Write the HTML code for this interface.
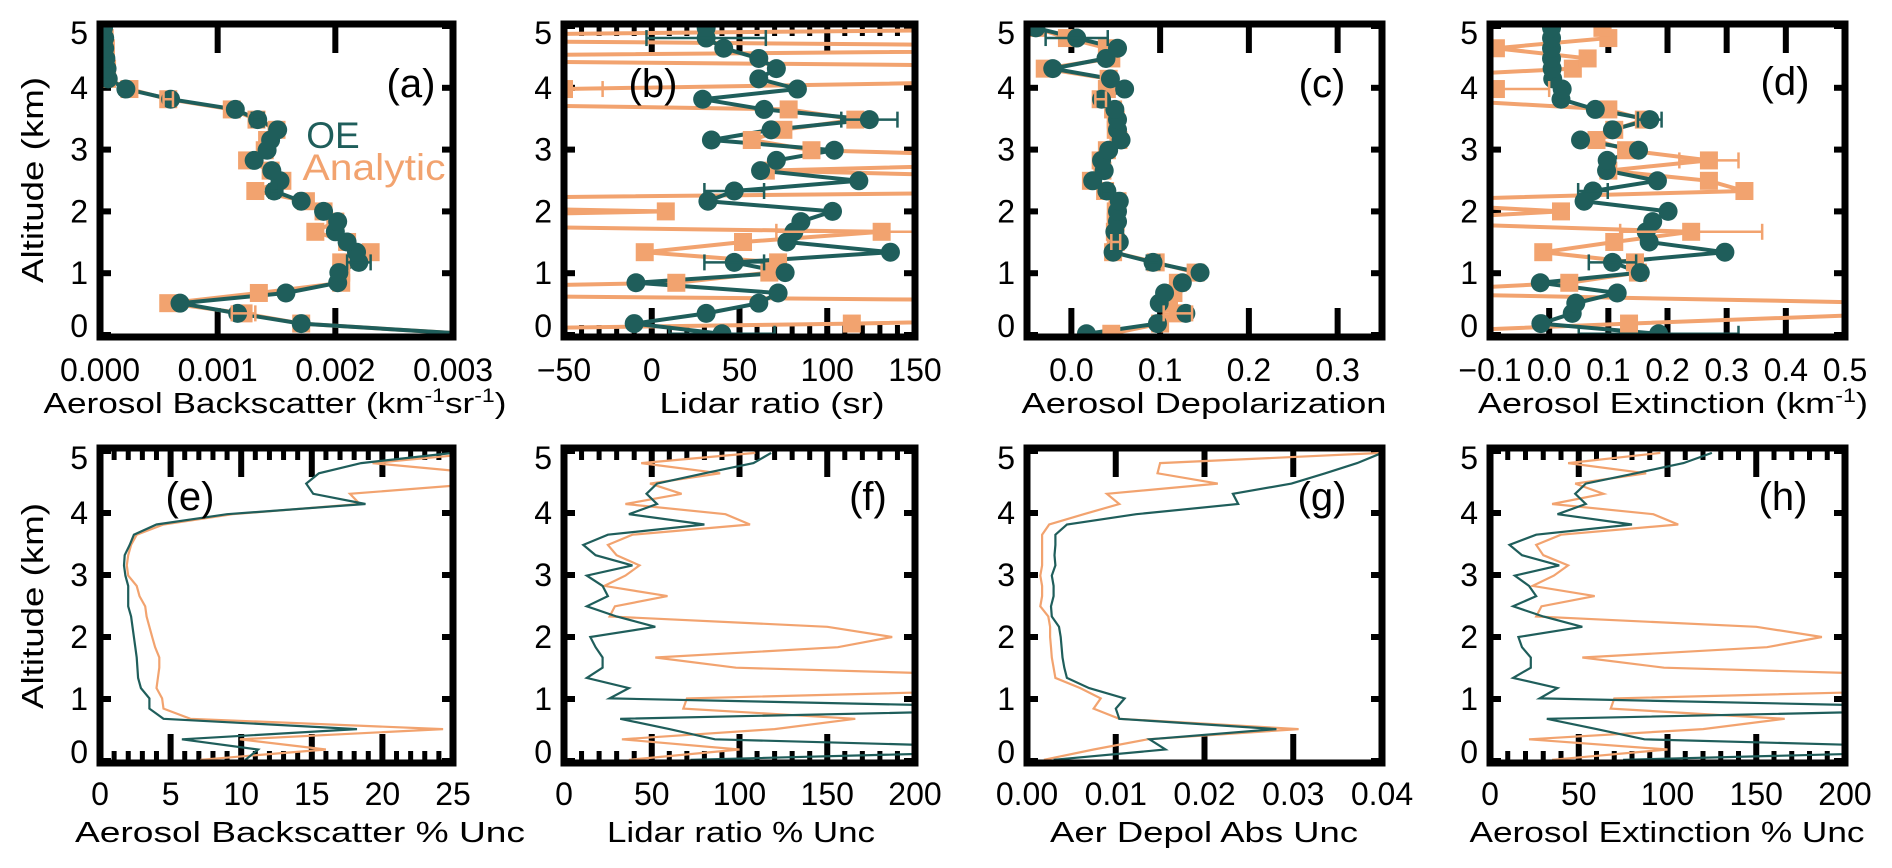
<!DOCTYPE html>
<html><head><meta charset="utf-8"><style>
html,body{margin:0;padding:0;background:#fff;}
svg{display:block;font-family:"Liberation Sans",sans-serif;}
</style></head><body>
<svg id="fig" width="1892" height="868" viewBox="0 0 1892 868" xmlns="http://www.w3.org/2000/svg"></svg>
<script>
// ---- data ----
const alts = [0.02,0.185,0.35,0.515,0.68,0.845,1.01,1.175,1.34,1.505,1.67,1.835,2.0,2.165,2.33,2.495,2.66,2.825,2.99,3.155,3.32,3.485,3.65,3.815,3.98,4.145,4.31,4.475,4.64,4.805,4.97];

const aOE = [0.0031,0.00171,0.00117,0.00068,0.00158,0.00202,0.00203,0.0022,0.00218,0.0021,0.002,0.00202,0.0019,0.00171,0.00148,0.00153,0.00146,0.00131,0.00142,0.00145,0.00151,0.00134,0.00115,0.0006,0.00022,0.00007,0.00006,0.00005,0.00004,0.00004,0.00003];
const aAn = [0.0031,0.00171,0.00122,0.00058,0.00135,0.00205,0.00205,0.00205,0.0023,0.0021,0.00183,0.002,0.0019,0.00175,0.00132,0.00155,0.00145,0.00125,0.0014,0.00142,0.0015,0.00133,0.00112,0.00058,0.00025,0.00006,0.00006,0.00005,0.00005,0.00004,0.00003];
const aOEerrIdx = [7,14,21]; const aOEerrVal = [0.0001,0.00004,0.00005];
const aAnErrIdx = [2,23]; const aAnErrVal = [0.0001,0.00004];

const bOE = [40,-10,31,61,72,-9,76,47,136,77,81,85,103,32,47,118,62,71,104,34,68,124,64,29,83,61,71,61,41,31,31];
const bAn = [-300,114,400,400,-300,14,67,72,-4,52,131,-300,8,-300,300,300,65,300,91,57,75,116,78,-300,-50,300,400,-300,400,-300,300];
const bOEerrIdx = [0,7,14,21,29]; const bOEerrVal = [30,17,17,16,34];
const bAnErrIdx = [24,10]; const bAnErrVal = [22,60];

const cOE = [0.017,0.097,0.129,0.099,0.105,0.125,0.145,0.092,0.047,0.054,0.049,0.052,0.052,0.054,0.04,0.024,0.037,0.034,0.042,0.056,0.052,0.052,0.049,0.034,0.06,0.044,-0.021,0.039,0.052,0.006,-0.04];
const cAn = [0.045,0.1,0.12,0.11,0.115,0.12,0.14,0.095,0.047,0.05,0.049,0.05,0.05,0.052,0.038,0.022,0.035,0.033,0.04,0.053,0.05,0.05,0.047,0.033,0.04,0.042,-0.03,0.045,0.04,-0.005,-0.04];
const cOEerrIdx = [7,29,14]; const cOEerrVal = [0.007,0.035,0.006];
const cAnErrIdx = [2,23,9]; const cAnErrVal = [0.016,0.006,0.005];

const dOE = [0.185,-0.014,0.039,0.045,0.115,-0.015,0.154,0.107,0.297,0.169,0.164,0.175,0.201,0.059,0.074,0.183,0.097,0.098,0.151,0.053,0.107,0.17,0.078,0.02,0.022,0.006,0.005,0.004,0.004,0.004,0.004];
const dAn = [-0.3,0.135,0.6,0.6,-0.3,0.034,0.15,0.145,-0.01,0.11,0.24,-0.3,0.02,-0.3,0.33,0.27,0.1,0.27,0.13,0.08,0.11,0.16,0.1,-0.2,-0.09,-0.3,0.04,0.065,-0.09,0.1,0.09];
const dOEerrIdx = [0,7,14,21]; const dOEerrVal = [0.135,0.04,0.025,0.02];
const dAnErrIdx = [10,17,24]; const dAnErrVal = [0.12,0.05,0.09];

const eOE = [10.3,11.2,5.8,18.2,4.5,3.5,3.5,2.9,2.7,2.65,2.6,2.5,2.4,2.3,2.2,2.0,2.0,2.0,1.8,1.7,1.75,2.1,2.4,4.0,9.0,18.8,15.1,14.6,15.5,18.5,25];
const eAn = [7.1,16,9.9,24.3,6.4,4.5,4.4,4.0,4.1,4.2,4.2,3.9,3.7,3.5,3.3,3.2,2.8,2.6,2.0,1.9,2.0,2.2,2.6,4.5,9.4,18.4,17.7,27,27,19.3,27];

const fOE = [72,300,86,60,32,300,26,37,13,22,22,18,15,52,30,13,25,22,13,39,18,11,25,80,37,53,47,53,80,108,118];
const fAn = [37,100,33,120,166,68,70,300,300,98,52,156,187,150,26,29,59,23,35,43,30,25,39,106,92,35,67,49,89,44,109];

const gOE = [0.003,0.0156,0.0138,0.0281,0.0104,0.010,0.011,0.007,0.0045,0.0042,0.0040,0.0039,0.0038,0.0036,0.0028,0.0027,0.0030,0.0030,0.0028,0.0032,0.0031,0.0032,0.0032,0.0045,0.0123,0.0238,0.0232,0.0298,0.0336,0.0372,0.04];
const gAn = [0.0019,0.0075,0.0136,0.0306,0.0104,0.0075,0.0083,0.006,0.0032,0.003,0.0028,0.0027,0.0026,0.0026,0.0024,0.0015,0.0017,0.0017,0.0015,0.0017,0.0017,0.0017,0.0017,0.0025,0.0064,0.0104,0.009,0.0215,0.0147,0.015,0.04];

const hOE = [75,300,87,60,32,300,28,38,13,23,23,18,16,52,30,13,26,22,14,39,18,11,26,80,38,54,48,54,82,109,125];
const hAn = [35,100,22,120,166,68,70,300,300,98,52,156,187,150,26,29,59,24,36,44,30,26,40,106,92,35,64,48,88,44,96];

const aTicks = [0,0.001,0.002,0.003]; const aLabels = ['0.000','0.001','0.002','0.003'];
const bTicks = [-50,0,50,100,150]; const bLabels = ['\u221250','0','50','100','150'];
const cTicks = [0,0.1,0.2,0.3]; const cLabels = ['0.0','0.1','0.2','0.3'];
const dTicks = [-0.1,0,0.1,0.2,0.3,0.4,0.5]; const dLabels = ['\u22120.1','0.0','0.1','0.2','0.3','0.4','0.5'];
const eTicks = [0,5,10,15,20,25]; const eLabels = ['0','5','10','15','20','25'];
const fTicks = [0,50,100,150,200]; const fLabels = ['0','50','100','150','200'];
const gTicks = [0,0.01,0.02,0.03,0.04]; const gLabels = ['0.00','0.01','0.02','0.03','0.04'];
const hTicks = [0,50,100,150,200]; const hLabels = ['0','50','100','150','200'];
const yTicks = [0,1,2,3,4,5]; const yLabels = ['0','1','2','3','4','5'];

// ---- drawing ----
const NS = 'http://www.w3.org/2000/svg';
const svg = document.getElementById('fig');
const TEAL = '#1f5e5b', ORANGE = '#f2a36f';
function mk(tag, attrs, parent) {
  const el = document.createElementNS(NS, tag);
  for (const k in attrs) el.setAttribute(k, attrs[k]);
  (parent || svg).appendChild(el);
  return el;
}
let clipN = 0;
function panel(c) {
  const g = mk('g', {});
  
  
  const sx = v => c.x0 + (v - c.xmin) / (c.xmax - c.xmin) * (c.x1 - c.x0);
  const sy = a => c.y0 + a * (c.y5 - c.y0) / 5;
  const cid = 'clip' + (clipN++);
  const cp = mk('clipPath', {id: cid}, g);
  mk('rect', {x: c.x0, y: c.top, width: c.x1 - c.x0, height: c.bottom - c.top}, cp);
  if (c.minor) {
    for (let v = c.xmin; v <= c.xmax + 1e-9; v += c.minor) {
      const x = sx(v);
      mk('line', {x1: x, x2: x, y1: c.top, y2: c.top + 12, stroke: '#000', 'stroke-width': 5}, g);
      mk('line', {x1: x, x2: x, y1: c.bottom, y2: c.bottom - 12, stroke: '#000', 'stroke-width': 5}, g);
    }
  }
  c.ticks.forEach((v, i) => {
    const x = sx(v);
    const tk = mk('line', {x1: x, x2: x, y1: c.top, y2: c.top + 29, stroke: '#000', 'stroke-width': 6}, g);
    
    
    mk('line', {x1: x, x2: x, y1: c.bottom, y2: c.bottom - 29, stroke: '#000', 'stroke-width': 6}, g);
    const t = mk('text', {x: x, y: c.labY, 'font-size': 32, 'text-anchor': 'middle', fill: '#000'}, g);
    t.textContent = c.labels[i];
    
    
  });
  yTicks.forEach((v, i) => {
    const y = sy(v);
    mk('line', {x1: c.x0 - 3, x2: c.x0 + 11, y1: y, y2: y, stroke: '#000', 'stroke-width': 6}, g);
    mk('line', {x1: c.x1 + 3, x2: c.x1 - 11, y1: y, y2: y, stroke: '#000', 'stroke-width': 6}, g);
    const off = v === 5 ? 7 : (v === 0 ? -9 : 0);
    const t = mk('text', {x: c.x0 - 12, y: y + off + 11, 'font-size': 32, 'text-anchor': 'end', fill: '#000'}, g);
    t.textContent = yLabels[i];
    
    
  });
  const dg = mk('g', {'clip-path': 'url(#' + cid + ')'}, g);
  const series = [[c.an, ORANGE, 'analytic'], [c.oe, TEAL, 'oe']];
  series.forEach(([arr, col, nm]) => {
    const pts = arr.map((v, i) => sx(v).toFixed(1) + ',' + sy(alts[i]).toFixed(1)).join(' ');
    const pl = mk('polyline', {points: pts, fill: 'none', stroke: col, 'stroke-width': c.markers ? 4 : 2.2, 'stroke-linejoin': 'miter'}, dg);
    
    
  });
  if (c.markers) {
    const errs = [[c.anErrIdx, c.anErrVal, c.an, ORANGE], [c.oeErrIdx, c.oeErrVal, c.oe, TEAL]];
    c.an.forEach((v, i) => {
      const r = mk('rect', {x: sx(v) - 9, y: sy(alts[i]) - 9, width: 18, height: 18, fill: ORANGE}, dg);
      
      
    });
    c.oe.forEach((v, i) => {
      const ci = mk('circle', {cx: sx(v), cy: sy(alts[i]), r: 9.5, fill: TEAL}, dg);
      
      
    });
    errs.forEach(([idx, val, arr, col]) => {
      (idx || []).forEach((k, j) => {
        const y = sy(alts[k]), xa = sx(arr[k] - val[j]), xb = sx(arr[k] + val[j]);
        const eb = mk('g', {stroke: col, 'stroke-width': 2.5}, dg);
        
        
        mk('line', {x1: xa, x2: xb, y1: y, y2: y}, eb);
        mk('line', {x1: xa, x2: xa, y1: y - 8, y2: y + 8}, eb);
        mk('line', {x1: xb, x2: xb, y1: y - 8, y2: y + 8}, eb);
      });
    });
  }
  const fr = mk('rect', {x: c.x0, y: c.top, width: c.x1 - c.x0, height: c.bottom - c.top, fill: 'none', stroke: '#000', 'stroke-width': 7}, g);
  
  
  const tt = mk('text', {x: c.tcx, y: c.titleY, 'font-size': 29, 'text-anchor': 'middle', fill: '#000', textLength: c.tlen, lengthAdjust: 'spacingAndGlyphs'}, g);
  tt.innerHTML = c.title;
  
  
  const pl = mk('text', {x: c.plx, y: c.ply, 'font-size': 40, 'text-anchor': 'middle', fill: '#000'}, g);
  pl.textContent = '(' + c.id + ')';
  
  
}
const topRow = {top: 24, bottom: 337, y0: 335, y5: 26, labY: 381, titleY: 413, markers: true};
const botRow = {top: 448, bottom: 763, y0: 761, y5: 451, labY: 805, titleY: 842, markers: false};
panel(Object.assign({}, topRow, {id: 'a', x0: 100, x1: 453, xmin: 0, xmax: 0.003, ticks: aTicks, labels: aLabels, oe: aOE, an: aAn, oeErrIdx: aOEerrIdx, oeErrVal: aOEerrVal, anErrIdx: aAnErrIdx, anErrVal: aAnErrVal, title: 'Aerosol Backscatter (km<tspan dy="-11" font-size="19">-1</tspan><tspan dy="11">sr</tspan><tspan dy="-11" font-size="19">-1</tspan><tspan dy="11">)</tspan>', tcx: 275, tlen: 463, plx: 411, ply: 97}));
panel(Object.assign({}, topRow, {id: 'b', x0: 564, x1: 915, xmin: -50, xmax: 150, minor: 10, ticks: bTicks, labels: bLabels, oe: bOE, an: bAn, oeErrIdx: bOEerrIdx, oeErrVal: bOEerrVal, anErrIdx: bAnErrIdx, anErrVal: bAnErrVal, title: 'Lidar ratio (sr)', tcx: 772, tlen: 225, plx: 653, ply: 97}));
panel(Object.assign({}, topRow, {id: 'c', x0: 1027, x1: 1382, xmin: -0.05, xmax: 0.35, ticks: cTicks, labels: cLabels, oe: cOE, an: cAn, oeErrIdx: cOEerrIdx, oeErrVal: cOEerrVal, anErrIdx: cAnErrIdx, anErrVal: cAnErrVal, title: 'Aerosol Depolarization', tcx: 1204, tlen: 365, plx: 1322, ply: 97}));
panel(Object.assign({}, topRow, {id: 'd', x0: 1490, x1: 1845, xmin: -0.1, xmax: 0.5, ticks: dTicks, labels: dLabels, oe: dOE, an: dAn, oeErrIdx: dOEerrIdx, oeErrVal: dOEerrVal, anErrIdx: dAnErrIdx, anErrVal: dAnErrVal, title: 'Aerosol Extinction (km<tspan dy="-11" font-size="19">-1</tspan><tspan dy="11">)</tspan>', tcx: 1673, tlen: 390, plx: 1785, ply: 95}));
panel(Object.assign({}, botRow, {id: 'e', x0: 100, x1: 453, xmin: 0, xmax: 25, minor: 1, ticks: eTicks, labels: eLabels, oe: eOE, an: eAn, title: 'Aerosol Backscatter % Unc', tcx: 300, tlen: 450, plx: 190, ply: 510}));
panel(Object.assign({}, botRow, {id: 'f', x0: 564, x1: 915, xmin: 0, xmax: 200, minor: 10, ticks: fTicks, labels: fLabels, oe: fOE, an: fAn, title: 'Lidar ratio % Unc', tcx: 741, tlen: 268, plx: 868, ply: 510}));
panel(Object.assign({}, botRow, {id: 'g', x0: 1027, x1: 1382, xmin: 0, xmax: 0.04, ticks: gTicks, labels: gLabels, oe: gOE, an: gAn, title: 'Aer Depol Abs Unc', tcx: 1204, tlen: 308, plx: 1322, ply: 510}));
panel(Object.assign({}, botRow, {id: 'h', x0: 1490, x1: 1845, xmin: 0, xmax: 200, minor: 10, ticks: hTicks, labels: hLabels, oe: hOE, an: hAn, title: 'Aerosol Extinction % Unc', tcx: 1667, tlen: 395, plx: 1783, ply: 510}));

[180, 606].forEach(cy => {
  const t = mk('text', {x: 0, y: 0, 'font-size': 31, 'text-anchor': 'middle', fill: '#000', transform: 'translate(43,' + cy + ') rotate(-90)', textLength: 206, lengthAdjust: 'spacingAndGlyphs'});
  t.textContent = 'Altitude (km)';
  
  
});
const l1 = mk('text', {x: 333, y: 148, 'font-size': 37, 'text-anchor': 'middle', fill: TEAL});
l1.textContent = 'OE';


const l2 = mk('text', {x: 374, y: 180, 'font-size': 37, 'text-anchor': 'middle', fill: ORANGE, textLength: 143, lengthAdjust: 'spacingAndGlyphs'});
l2.textContent = 'Analytic';


</script>
</body></html>
